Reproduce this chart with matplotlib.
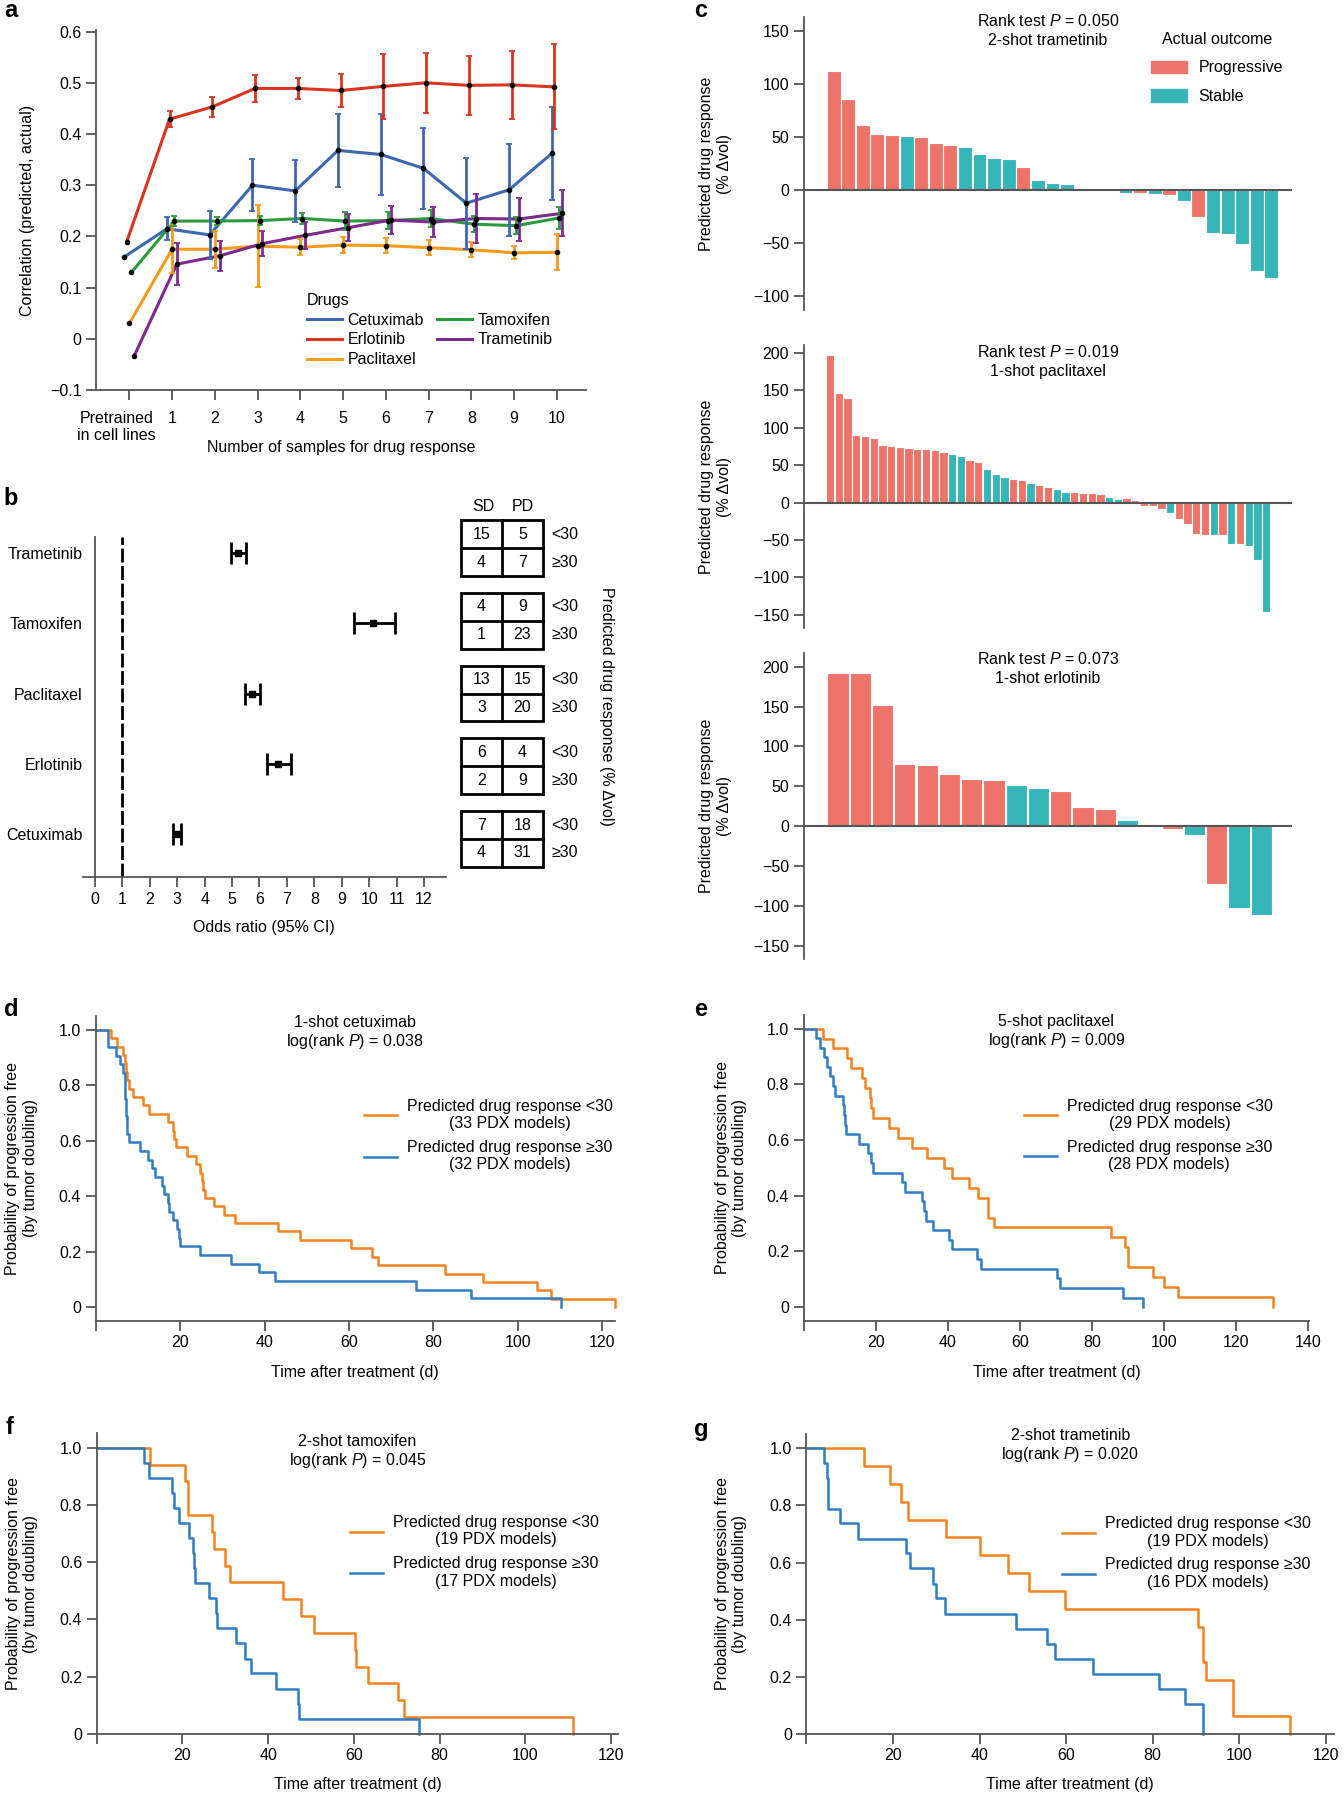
import numpy as np
import matplotlib
matplotlib.use('Agg')
import matplotlib.pyplot as plt
from matplotlib.patches import Patch, Rectangle
from matplotlib.transforms import ScaledTranslation

plt.rcParams['font.family'] = ['Liberation Sans', 'DejaVu Sans']
plt.rcParams['font.size'] = 11.5
plt.rcParams['mathtext.fontset'] = 'custom'
plt.rcParams['mathtext.rm'] = 'Liberation Sans'
plt.rcParams['mathtext.it'] = 'Liberation Sans:italic'
plt.rcParams['axes.edgecolor'] = '#555555'
plt.rcParams['axes.linewidth'] = 1.3
plt.rcParams['axes.spines.top'] = False
plt.rcParams['axes.spines.right'] = False
for a in ('xtick', 'ytick'):
    plt.rcParams[a + '.color'] = '#555555'
    plt.rcParams[a + '.labelcolor'] = 'black'
    plt.rcParams[a + '.major.size'] = 7
    plt.rcParams[a + '.major.width'] = 1.3

# ----- panel a : correlation vs number of samples -----
a_xlabels = ['Pretrained\nin cell lines', '1', '2', '3', '4', '5', '6', '7', '8', '9', '10']
drugs = ['Cetuximab', 'Erlotinib', 'Paclitaxel', 'Tamoxifen', 'Trametinib']
cetuximab_r = [0.160, 0.215, 0.203, 0.300, 0.289, 0.368, 0.360, 0.333, 0.265, 0.291, 0.362]
erlotinib_r = [0.190, 0.429, 0.453, 0.489, 0.489, 0.485, 0.493, 0.500, 0.495, 0.496, 0.492]
paclitaxel_r = [0.030, 0.175, 0.175, 0.181, 0.179, 0.183, 0.182, 0.178, 0.174, 0.168, 0.169]
tamoxifen_r = [0.130, 0.230, 0.230, 0.231, 0.235, 0.230, 0.231, 0.235, 0.224, 0.221, 0.236]
trametinib_r = [-0.034, 0.146, 0.162, 0.186, 0.202, 0.217, 0.232, 0.228, 0.235, 0.234, 0.245]
# error half-widths for 1..10 samples
cetuximab_e = [0.022, 0.047, 0.051, 0.060, 0.072, 0.080, 0.079, 0.089, 0.090, 0.091]
erlotinib_e = [0.015, 0.020, 0.026, 0.020, 0.033, 0.064, 0.059, 0.057, 0.067, 0.083]
paclitaxel_e = [0.047, 0.036, 0.080, 0.016, 0.015, 0.014, 0.015, 0.015, 0.013, 0.035]
tamoxifen_e = [0.010, 0.008, 0.008, 0.011, 0.017, 0.017, 0.016, 0.016, 0.016, 0.021]
trametinib_e = [0.041, 0.029, 0.025, 0.026, 0.026, 0.028, 0.030, 0.047, 0.042, 0.045]

# ----- panel b : odds ratios -----
or_drugs = ['Trametinib', 'Tamoxifen', 'Paclitaxel', 'Erlotinib', 'Cetuximab']
or_mid = [5.21, 10.15, 5.73, 6.69, 3.00]
or_lo = [4.95, 9.43, 5.47, 6.27, 2.83]
or_hi = [5.49, 10.96, 6.01, 7.15, 3.14]
# 2x2 tables: rows <30 / >=30, columns SD / PD
tables = [[[15, 5], [4, 7]],
          [[4, 9], [1, 23]],
          [[13, 15], [3, 20]],
          [[6, 4], [2, 9]],
          [[7, 18], [4, 31]]]

# ----- panel c : waterfall plots (P = progressive, S = stable) -----
tram_vals = [112.8, 86, 61, 53, 52, 51.4, 50, 44, 43, 41, 34.5, 30.7, 29.8, 22, 9.4, 6.9, 6,
             1.9, 0.6, -0.6, -2.5, -3, -3.5, -5, -10.5, -25.7, -40.4, -41.7, -50.5, -76.5, -82.4]
tram_out = "PPPPPSPPPSSSSPSSSSSSSPSPSPSSSSS"
pacl_vals = [197, 147, 139.5, 90, 88.7, 86.5, 77, 75.5, 74.5, 73, 72, 71.5, 70.5, 67.3, 65.5, 62,
             57, 54, 44.6, 38.3, 34.8, 31.7, 29.9, 25.9, 23.2, 21, 17.8, 14.7, 14.3, 13.4, 13.4,
             12, 7.6, 5.3, 5.8, 3.1, -4, -4.9, -8.9, -13.5, -21.4, -28, -41.5, -42.8, -42.8,
             -43.7, -55.3, -55.7, -58, -76.7, -145.8]
pacl_out = "PPPPPPPPPPPPPPSSPPSSSPPSPPSSPPPPSSPPPPPSPPPPSPSPSSS"
erlo_vals = [192.4, 192, 151.8, 78.2, 76.5, 65.2, 59, 57.7, 52.3, 47.3, 44.3, 24.7, 22.2, 7.5,
             2.1, -3.8, -10.9, -72.8, -102, -111]
erlo_out = "PPPPPPPPSSPPPSPPSPSS"

# ----- panels d-g : progression-free curves (event times, level after event) -----
d_lo_t = [3.6, 5.1, 6.4, 6.8, 7.2, 7.4, 7.9, 8.9, 11.2, 12.7, 17.0, 18.2, 18.5, 18.9, 21.5, 23.7,
          24.6, 25.1, 25.4, 25.9, 28.0, 30.4, 33.1, 43.2, 48.5, 60.5, 65.4, 66.9, 82.8, 91.9,
          104.7, 107.8, 123.0]
d_lo_s = [0.970, 0.939, 0.909, 0.879, 0.848, 0.818, 0.788, 0.758, 0.727, 0.697, 0.667, 0.636,
          0.606, 0.576, 0.545, 0.515, 0.485, 0.455, 0.424, 0.394, 0.364, 0.333, 0.303, 0.273,
          0.242, 0.212, 0.182, 0.152, 0.121, 0.091, 0.061, 0.030, 0.0]
d_hi_t = [3.0, 4.8, 5.7, 6.5, 6.8, 6.9, 7.0, 7.1, 7.2, 7.3, 7.5, 7.8, 10.4, 12.4, 13.4, 14.0,
          15.6, 16.1, 17.2, 17.4, 18.3, 19.2, 19.7, 20.0, 24.7, 32.0, 38.7, 42.4, 76.0, 88.9, 110.3]
d_hi_s = [0.938, 0.906, 0.875, 0.844, 0.813, 0.781, 0.750, 0.719, 0.688, 0.656, 0.625, 0.594,
          0.563, 0.531, 0.500, 0.469, 0.438, 0.406, 0.375, 0.344, 0.313, 0.281, 0.250, 0.219,
          0.188, 0.156, 0.125, 0.094, 0.063, 0.031, 0.0]
e_lo_t = [5.4, 8.1, 11.9, 13.2, 16.1, 16.9, 18.4, 18.7, 19.2, 23.8, 26.3, 30.1, 34.2, 39.0, 41.3,
          46.0, 48.3, 51.1, 52.8, 85.2, 89.1, 89.9, 97.0, 100.0, 104.0, 130.2]
e_lo_s = [0.964, 0.929, 0.893, 0.857, 0.821, 0.786, 0.750, 0.714, 0.679, 0.643, 0.607, 0.571,
          0.536, 0.500, 0.464, 0.429, 0.393, 0.321, 0.286, 0.250, 0.214, 0.143, 0.107, 0.071,
          0.036, 0.0]
e_hi_t = [3.4, 4.5, 5.7, 6.4, 7.3, 8.0, 8.7, 11.0, 11.3, 11.5, 11.7, 15.4, 17.8, 18.6, 19.2, 27.2,
          28.1, 32.8, 33.5, 34.0, 36.0, 40.3, 41.3, 48.2, 49.3, 70.2, 71.1, 88.6, 94.1]
e_hi_s = [0.966, 0.931, 0.897, 0.862, 0.828, 0.793, 0.759, 0.724, 0.690, 0.655, 0.621, 0.586,
          0.552, 0.517, 0.483, 0.448, 0.414, 0.379, 0.345, 0.310, 0.276, 0.241, 0.207, 0.172,
          0.138, 0.103, 0.069, 0.034, 0.0]
f_lo_t = [12.5, 20.6, 21.2, 27.0, 27.4, 29.9, 31.2, 43.4, 47.7, 50.7, 60.3, 60.6, 63.2, 70.4,
          71.7, 111.2]
f_lo_s = [0.941, 0.882, 0.765, 0.706, 0.647, 0.588, 0.529, 0.471, 0.412, 0.353, 0.294, 0.235,
          0.176, 0.118, 0.059, 0.0]
f_hi_t = [11.0, 12.1, 17.6, 18.0, 19.3, 21.5, 22.4, 22.6, 23.0, 26.1, 27.8, 28.1, 32.6, 34.7,
          35.9, 41.9, 46.9, 47.1, 75.2]
f_hi_s = [0.947, 0.895, 0.842, 0.789, 0.737, 0.684, 0.632, 0.579, 0.526, 0.474, 0.421, 0.368,
          0.316, 0.263, 0.211, 0.158, 0.105, 0.053, 0.0]
g_lo_t = [13.3, 19.2, 21.9, 23.4, 32.2, 40.0, 46.6, 51.5, 59.7, 90.5, 91.6, 92.4, 98.5, 111.7]
g_lo_s = [0.938, 0.875, 0.813, 0.750, 0.688, 0.625, 0.563, 0.500, 0.438, 0.375, 0.250, 0.188,
          0.063, 0.0]
g_hi_t = [4.1, 4.7, 5.0, 5.1, 7.8, 11.9, 23.1, 24.0, 29.3, 29.9, 32.0, 48.5, 55.6, 57.4, 66.1,
          81.5, 87.5, 91.7]
g_hi_s = [0.947, 0.895, 0.842, 0.789, 0.737, 0.684, 0.632, 0.579, 0.526, 0.474, 0.421, 0.368,
          0.316, 0.263, 0.211, 0.158, 0.105, 0.0]

# ----- styles -----
drug_colors = {'Cetuximab': '#3d67b1', 'Erlotinib': '#d8341f', 'Paclitaxel': '#f59a1b',
               'Tamoxifen': '#2b9a3d', 'Trametinib': '#7d2a8e'}
dodge = {'Cetuximab': -0.12, 'Erlotinib': -0.06, 'Paclitaxel': 0.0,
         'Tamoxifen': 0.05, 'Trametinib': 0.11}
PROG, STAB = '#ee746a', '#36b5b8'
ORANGE, BLUE = '#f5821f', '#2f7cc2'

fig = plt.figure(figsize=(13.44, 18), dpi=100)

# ================= a =================
ax = fig.add_axes([0.0714, 0.7833, 0.3646, 0.2])
means = dict(zip(drugs, [cetuximab_r, erlotinib_r, paclitaxel_r, tamoxifen_r, trametinib_r]))
errs = dict(zip(drugs, [cetuximab_e, erlotinib_e, paclitaxel_e, tamoxifen_e, trametinib_e]))
xs = np.arange(len(a_xlabels))
for d in drugs:
    x = xs + dodge[d]
    y = np.array(means[d])
    ax.plot(x, y, color=drug_colors[d], lw=2.2, label=d, zorder=2)
    ax.errorbar(x[1:], y[1:], yerr=errs[d], fmt='none', ecolor=drug_colors[d],
                elinewidth=2, capsize=2.5, capthick=1.3, zorder=3)
    ax.plot(x, y, 'o', color='black', ms=3, zorder=4)
ax.set_xlim(-0.78, 10.68)
ax.set_ylim(-0.1, 0.603)
ax.set_xticks(xs)
ax.set_xticklabels(a_xlabels)
ax.tick_params(axis='x', pad=8)
# nudge the two-line first label to the left, as in the original
first = ax.get_xticklabels()[0]
first.set_transform(first.get_transform() + ScaledTranslation(-0.13, 0, fig.dpi_scale_trans))
ax.set_yticks(np.arange(-0.1, 0.61, 0.1))
ax.set_yticklabels(['\u22120.1', '0', '0.1', '0.2', '0.3', '0.4', '0.5', '0.6'])
ax.set_ylabel('Correlation (predicted, actual)')
ax.yaxis.set_label_coords(-0.125, 0.5)
ax.set_xlabel('Number of samples for drug response')
ax.xaxis.set_label_coords(0.501, -0.138)
ax.legend(title='Drugs', ncol=2, frameon=False, loc='upper left',
          bbox_to_anchor=(0.43, 0.27), borderpad=0, borderaxespad=0, handlelength=2.2,
          handletextpad=0.35, columnspacing=0.8, labelspacing=0.3, alignment='left')

# ================= b =================
axb = fig.add_axes([0.0615, 0.5128, 0.2703, 0.1889])
rows = np.arange(len(or_drugs), 0, -1)
axb.set_xlim(-0.45, 12.8)
axb.set_ylim(0.388, 5.23)
axb.spines['left'].set_position(('data', 0))
axb.axvline(1, color='black', lw=2, dashes=(5, 1.3))
mid = np.array(or_mid)
axb.errorbar(mid, rows, xerr=[mid - np.array(or_lo), np.array(or_hi) - mid], fmt='s',
             color='black', ms=5, elinewidth=2, capsize=8, capthick=2)
axb.set_xticks(range(13))
axb.set_yticks(rows)
axb.set_yticklabels(or_drugs)
axb.tick_params(axis='y', length=0, pad=9)
axb.set_xlabel('Odds ratio (95% CI)', labelpad=10)

axt = fig.add_axes([0.343, 0.5128, 0.061, 0.1889])
axt.set_xlim(0, 2)
axt.set_ylim(0.388, 5.23)
axt.axis('off')
h = 0.395
for r, tab in zip(rows, tables):
    yc = 3 + (r - 3) * 1.035
    axt.add_patch(Rectangle((0, yc - h), 2, 2 * h, fill=False, lw=2, ec='black', clip_on=False))
    axt.plot([1, 1], [yc - h, yc + h], color='black', lw=2, clip_on=False)
    axt.plot([0, 2], [yc, yc], color='black', lw=2, clip_on=False)
    for i, lab in enumerate(['<30', '\u226530']):
        yy = yc + h / 2 - i * h
        for j in range(2):
            axt.text(0.5 + j, yy, str(tab[i][j]), ha='center', va='center', clip_on=False)
        axt.text(2.2, yy, lab, ha='left', va='center', clip_on=False)
axt.text(0.55, 5.67, 'SD', ha='center', va='center', clip_on=False)
axt.text(1.5, 5.67, 'PD', ha='center', va='center', clip_on=False)
axt.text(3.56, 2.81, 'Predicted drug response (% \u0394vol)', rotation=-90,
         ha='center', va='center', clip_on=False)

# ================= c =================
def waterfall(rect, vals, outc, xlim, ylim, yticks, line1, line2, ty, legend=False):
    axc = fig.add_axes(rect)
    x = np.arange(len(vals))
    cols = [PROG if o == 'P' else STAB for o in outc]
    axc.bar(x, vals, width=0.95, color=cols, edgecolor='white', linewidth=0.8, zorder=2)
    axc.axhline(0, color='#555555', lw=1.5, zorder=3)
    axc.set_xlim(*xlim)
    axc.set_ylim(*ylim)
    axc.set_yticks(yticks)
    axc.set_xticks([])
    axc.spines['bottom'].set_visible(False)
    axc.set_ylabel('Predicted drug response\n(% \u0394vol)')
    axc.yaxis.set_label_coords(-0.147, 0.5)
    axc.text(0.5, ty[0], line1, transform=axc.transAxes, ha='center', va='center')
    axc.text(0.5, ty[1], line2, transform=axc.transAxes, ha='center', va='center')
    if legend:
        hs = [Patch(color=PROG, label='Progressive'), Patch(color=STAB, label='Stable')]
        axc.legend(handles=hs, title='Actual outcome', frameon=False, loc='upper left',
                   bbox_to_anchor=(0.71, 0.95), borderpad=0, borderaxespad=0,
                   handlelength=2.3, handleheight=0.8, labelspacing=0.85, handletextpad=0.7)
    return axc

waterfall([0.598, 0.8278, 0.3635, 0.1626], tram_vals, tram_out, (-2.05, 31.43), (-113, 163),
          range(-100, 151, 50), 'Rank test $\\it{P}$ = 0.050', '2-shot trametinib',
          (0.988, 0.922), legend=True)
waterfall([0.598, 0.651, 0.3635, 0.1574], pacl_vals, pacl_out, (-3.02, 53.0), (-168, 211),
          range(-150, 201, 50), 'Rank test $\\it{P}$ = 0.019', '1-shot paclitaxel',
          (0.975, 0.906))
waterfall([0.598, 0.467, 0.3635, 0.1704], erlo_vals, erlo_out, (-1.54, 20.39), (-167, 217.6),
          range(-150, 201, 50), 'Rank test $\\it{P}$ = 0.073', '1-shot erlotinib',
          (0.978, 0.916))

# ================= d-g =================
def km(rect, xmax, xticks, ybot, lo, hi, n_lo, n_hi, name, pval, title_y, leg_xy):
    axk = fig.add_axes(rect)
    for (t, s), col, n, sym in ((lo, ORANGE, n_lo, '<'), (hi, BLUE, n_hi, '\u2265')):
        axk.step([0] + t, [1.0] + s, where='post', color=col, lw=1.8, clip_on=False,
                 label='Predicted drug response %s30\n(%d PDX models)' % (sym, n))
    axk.set_xlim(0, xmax)
    axk.set_ylim(ybot, 1.05)
    axk.set_xticks(xticks)
    axk.set_xticklabels([''] + [str(v) for v in xticks[1:]])
    axk.set_yticks([0, 0.2, 0.4, 0.6, 0.8, 1.0])
    axk.set_yticklabels(['0', '0.2', '0.4', '0.6', '0.8', '1.0'])
    axk.set_ylabel('Probability of progression free\n(by tumor doubling)')
    axk.yaxis.set_label_coords(-0.112, 0.5)
    axk.set_xlabel('Time after treatment (d)')
    axk.xaxis.set_label_coords(0.5, -0.145)
    axk.text(0.5, title_y[0], name, transform=axk.transAxes, ha='center', va='center')
    axk.text(0.5, title_y[1], 'log(rank $\\it{P}$) = ' + pval, transform=axk.transAxes,
             ha='center', va='center')
    leg = axk.legend(frameon=False, loc='upper left', bbox_to_anchor=leg_xy, borderpad=0,
                     borderaxespad=0, handlelength=2.1, handletextpad=0.6, labelspacing=0.55)
    for tx in leg.get_texts():
        tx.set_multialignment('center')
    return axk

km([0.0713, 0.2663, 0.386, 0.1693], 123, list(range(0, 121, 20)), -0.049,
   (d_lo_t, d_lo_s), (d_hi_t, d_hi_s), 33, 32, '1-shot cetuximab', '0.038',
   (0.977, 0.915), (0.516, 0.728))
km([0.598, 0.2663, 0.376, 0.1700], 140.3, list(range(0, 141, 20)), -0.049,
   (e_lo_t, e_lo_s), (e_hi_t, e_hi_s), 29, 28, '5-shot paclitaxel', '0.009',
   (0.977, 0.915), (0.435, 0.726))
km([0.072, 0.0368, 0.388, 0.1669], 121.7, list(range(0, 121, 20)), 0,
   (f_lo_t, f_lo_s), (f_hi_t, f_hi_s), 19, 17, '2-shot tamoxifen', '0.045',
   (0.972, 0.911), (0.485, 0.728))
km([0.600, 0.0368, 0.3926, 0.1665], 121.9, list(range(0, 121, 20)), 0,
   (g_lo_t, g_lo_s), (g_hi_t, g_hi_s), 19, 16, '2-shot trametinib', '0.020',
   (0.994, 0.931), (0.484, 0.726))

# ----- panel letters -----
for lab, x, y in (('a', 0.008, 0.9944), ('b', 0.008, 0.7233), ('c', 0.521, 0.9939),
                  ('d', 0.008, 0.4394), ('e', 0.5216, 0.4394), ('f', 0.007, 0.2072),
                  ('g', 0.5216, 0.2056)):
    fig.text(x, y, lab, fontsize=17, fontweight='bold', ha='center', va='center')

fig.savefig('out.png', dpi=100)
